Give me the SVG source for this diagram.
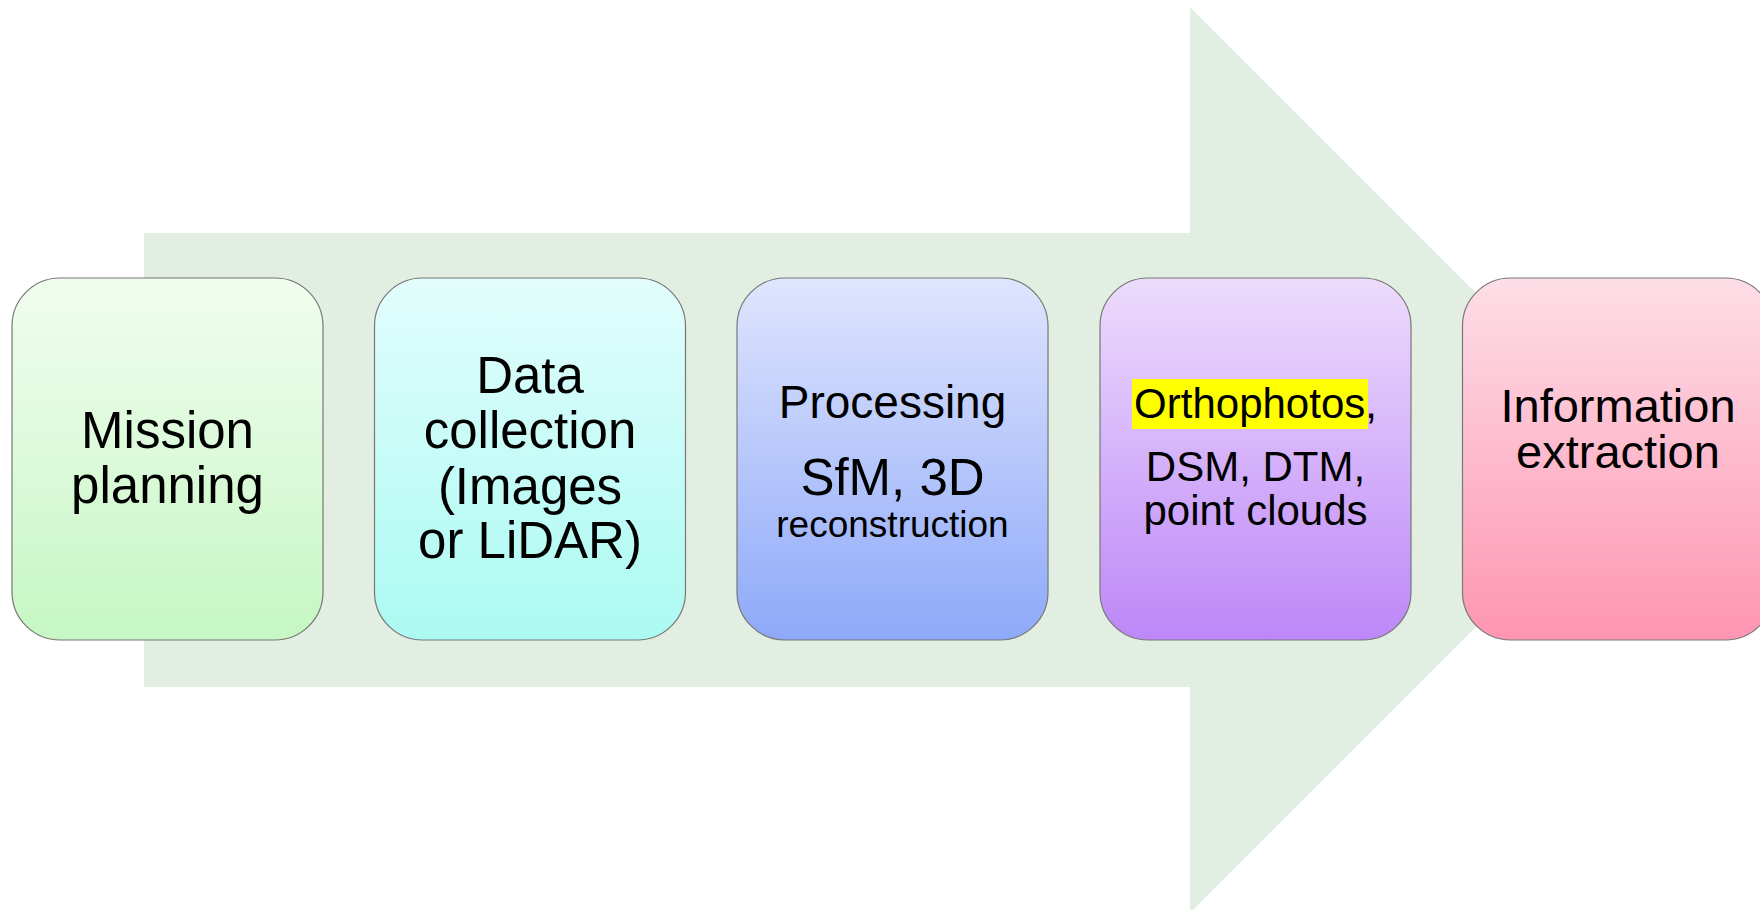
<svg xmlns="http://www.w3.org/2000/svg" width="1760" height="910" viewBox="0 0 1760 910">
  <defs>
    <linearGradient id="g1" x1="0" y1="0" x2="0" y2="1">
      <stop offset="0" stop-color="#f1fdef"/>
      <stop offset="1" stop-color="#c6f7c4"/>
    </linearGradient>
    <linearGradient id="g2" x1="0" y1="0" x2="0" y2="1">
      <stop offset="0" stop-color="#e2fdfc"/>
      <stop offset="1" stop-color="#abfaf2"/>
    </linearGradient>
    <linearGradient id="g3" x1="0" y1="0" x2="0" y2="1">
      <stop offset="0" stop-color="#dfe5fd"/>
      <stop offset="1" stop-color="#8ea9f9"/>
    </linearGradient>
    <linearGradient id="g4" x1="0" y1="0" x2="0" y2="1">
      <stop offset="0" stop-color="#eddcfc"/>
      <stop offset="1" stop-color="#bd87f8"/>
    </linearGradient>
    <linearGradient id="g5" x1="0" y1="0" x2="0" y2="1">
      <stop offset="0" stop-color="#fddee7"/>
      <stop offset="1" stop-color="#fe95b2"/>
    </linearGradient>
  </defs>
  <style>
    .box { stroke: #777777; stroke-width: 1.2; }
    .lbl { font-family: "Liberation Sans", Arial, sans-serif; fill: #000000; text-anchor: middle; }
  </style>

  <rect width="1760" height="910" fill="#ffffff"/>

  <!-- large background arrow -->
  <g id="connectors">
    <path d="M144,233 H1190 V7 L1643,460 L1190,913 V687 H144 Z" fill="#e2eee2"/>
  </g>

  <g id="mission">
    <rect class="box" x="12" y="278" width="311" height="362" rx="48" fill="url(#g1)"/>
    <text class="lbl" font-size="51" x="167.5" y="448">Mission</text>
    <text class="lbl" font-size="51" x="167.5" y="503">planning</text>
  </g>

  <g id="collection">
    <rect class="box" x="374.5" y="278" width="311" height="362" rx="48" fill="url(#g2)"/>
    <text class="lbl" font-size="51" x="530" y="393">Data</text>
    <text class="lbl" font-size="51" x="530" y="448">collection</text>
    <text class="lbl" font-size="51" x="530" y="504">(Images</text>
    <text class="lbl" font-size="51" x="530" y="558">or LiDAR)</text>
  </g>

  <g id="processing">
    <rect class="box" x="737" y="278" width="311" height="362" rx="48" fill="url(#g3)"/>
    <text class="lbl" font-size="46" x="892.5" y="418">Processing</text>
    <text class="lbl" font-size="51" x="892.5" y="495">SfM, 3D</text>
    <text class="lbl" font-size="37" x="892.5" y="537">reconstruction</text>
  </g>

  <g id="products">
    <rect class="box" x="1100" y="278" width="311" height="362" rx="48" fill="url(#g4)"/>
    <rect x="1132" y="379" width="236" height="50" fill="#ffff00"/>
    <text class="lbl" font-size="42" x="1255.5" y="418">Orthophotos,</text>
    <text class="lbl" font-size="42" x="1255.5" y="481">DSM, DTM,</text>
    <text class="lbl" font-size="42" x="1255.5" y="525">point clouds</text>
  </g>

  <g id="extraction">
    <rect class="box" x="1462.5" y="278" width="311" height="362" rx="48" fill="url(#g5)"/>
    <text class="lbl" font-size="47" x="1618" y="422">Information</text>
    <text class="lbl" font-size="47" x="1618" y="468">extraction</text>
  </g>
</svg>
